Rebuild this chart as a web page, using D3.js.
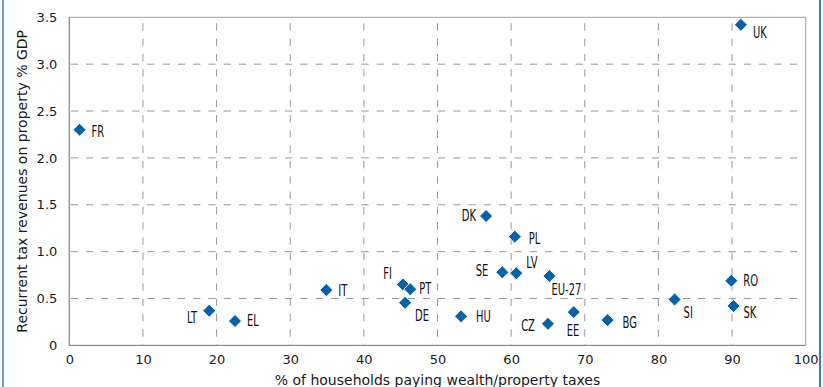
<!DOCTYPE html>
<html lang="en">
<head>
    <meta charset="UTF-8">
    <title>Property tax scatter</title>
    <script src="https://d3js.org/d3.v7.min.js"></script>
    <style>
        body {
            margin: 0;
            background: #fff;
        }

        svg {
            display: block;
        }
    </style>
</head>
<body>
    <div id="chart"></div>

    <script>
        // data
        const countries = ["FR", "UK", "LT", "EL", "IT", "FI", "PT", "DE", "HU", "DK",
                           "PL", "SE", "LV", "EU-27", "CZ", "EE", "BG", "SI", "RO", "SK"];
        const householdsPct = [1.4, 91.2, 19.0, 22.5, 34.9, 45.3, 46.3, 45.6, 53.2, 56.6,
                               60.5, 58.8, 60.7, 65.2, 65.0, 68.5, 73.1, 82.2, 89.9, 90.2];
        const revenueGdp = [2.30, 3.42, 0.37, 0.26, 0.59, 0.65, 0.60, 0.455, 0.31, 1.38,
                            1.16, 0.78, 0.77, 0.74, 0.23, 0.355, 0.27, 0.49, 0.69, 0.42];
        const xTicks = [0, 10, 20, 30, 40, 50, 60, 70, 80, 90, 100];
        const yTicks = [0, 0.5, 1.0, 1.5, 2.0, 2.5, 3.0, 3.5];

        // where each label sits next to its marker: anchor, dx, dy
        const labelPlace = {
            "FR": ["start", 12, 2], "UK": ["start", 12, 8], "LT": ["end", -12, 7],
            "EL": ["start", 12, 0], "IT": ["start", 12, 0], "FI": ["end", -11, -11],
            "PT": ["start", 9, -1], "DE": ["start", 10, 13], "HU": ["start", 15, 0],
            "DK": ["end", -10, 0], "PL": ["start", 14, 2], "SE": ["end", -14, -2],
            "LV": ["start", 10, -11], "EU-27": ["start", 2, 14], "CZ": ["end", -13, 2],
            "EE": ["start", -7, 18], "BG": ["start", 15, 2], "SI": ["start", 9, 13],
            "RO": ["start", 12, 0], "SK": ["start", 10, 7]
        };

        const width = 823;
        const height = 387;
        const margin = {top: 17.3, right: 17.3, bottom: 41.6, left: 69.3};
        const innerW = width - margin.left - margin.right;
        const innerH = height - margin.top - margin.bottom;

        const points = countries.map((c, i) => ({name: c, x: householdsPct[i], y: revenueGdp[i]}));

        const svg = d3.select("#chart").append("svg")
            .attr("width", width)
            .attr("height", height);

        // page border lines
        svg.append("line").attr("x1", 3).attr("x2", 3).attr("y1", 0).attr("y2", height)
            .attr("stroke", "#3b7bbf").attr("stroke-width", 1.5);
        svg.append("line").attr("x1", 820).attr("x2", 820).attr("y1", 0).attr("y2", height)
            .attr("stroke", "#3b7bbf").attr("stroke-width", 2);

        const g = svg.append("g")
            .attr("transform", `translate(${margin.left},${margin.top})`);

        const x = d3.scaleLinear().domain([0, 100]).range([0, innerW]);
        const y = d3.scaleLinear().domain([0, 3.5]).range([innerH, 0]);

        // grid
        g.append("g")
            .selectAll("line")
            .data(xTicks.filter(d => d > 0 && d < 100))
            .enter().append("line")
            .attr("x1", d => x(d)).attr("x2", d => x(d))
            .attr("y1", 6).attr("y2", innerH)
            .attr("stroke", "#9a9a9a")
            .attr("stroke-dasharray", "7.3,8");

        g.append("g")
            .selectAll("line")
            .data(yTicks.filter(d => d > 0 && d < 3.5))
            .enter().append("line")
            .attr("x1", 1.4).attr("x2", innerW - 6)
            .attr("y1", d => y(d)).attr("y2", d => y(d))
            .attr("stroke", "#9a9a9a")
            .attr("stroke-dasharray", "7.3,8");

        // frame
        g.append("rect")
            .attr("width", innerW).attr("height", innerH)
            .attr("fill", "none")
            .attr("stroke", "#a0a0a0");
        g.append("line").attr("x1", 0).attr("x2", 0).attr("y1", 0).attr("y2", innerH)
            .attr("stroke", "#888");
        g.append("line").attr("x1", 0).attr("x2", innerW).attr("y1", innerH).attr("y2", innerH)
            .attr("stroke", "#888");

        // axes
        const xAxis = g.append("g")
            .attr("transform", `translate(0,${innerH})`)
            .call(d3.axisBottom(x).tickValues(xTicks).tickSize(0).tickPadding(9).tickFormat(d3.format("d")));
        const yAxis = g.append("g")
            .call(d3.axisLeft(y).tickValues(yTicks).tickSize(0).tickPadding(12)
                .tickFormat(d => d === 0 ? "0" : d3.format(".1f")(d)));

        [xAxis, yAxis].forEach(a => {
            a.select(".domain").remove();
            a.selectAll("text")
                .attr("fill", "#1a1a1a")
                .style("font-family", "DejaVu Sans, sans-serif")
                .style("font-size", "13px");
        });

        // axis titles
        svg.append("text")
            .attr("x", margin.left + innerW / 2)
            .attr("y", 385)
            .attr("text-anchor", "middle")
            .attr("fill", "#1a1a1a")
            .style("font-family", "DejaVu Sans, sans-serif")
            .style("font-size", "14px")
            .text("% of households paying wealth/property taxes");

        svg.append("text")
            .attr("transform", `translate(27,${margin.top + innerH / 2}) rotate(-90)`)
            .attr("text-anchor", "middle")
            .attr("fill", "#1a1a1a")
            .style("font-family", "DejaVu Sans, sans-serif")
            .style("font-size", "14px")
            .text("Recurrent tax revenues on property % GDP");

        // markers
        const diamond = d3.symbol().type(d3.symbolSquare).size(84);

        g.append("g")
            .selectAll("path")
            .data(points)
            .enter().append("path")
            .attr("d", diamond)
            .attr("transform", d => `translate(${x(d.x)},${y(d.y)}) rotate(45)`)
            .attr("fill", "#0562a8")
            .attr("stroke", "#fff")
            .attr("stroke-width", 0.8);

        // labels (narrow type)
        const labels = g.append("g")
            .selectAll("g")
            .data(points)
            .enter().append("g")
            .attr("transform", d => {
                const p = labelPlace[d.name];
                return `translate(${x(d.x) + p[1]},${y(d.y) + p[2]})`;
            });

        labels.append("text")
            .attr("transform", "scale(0.74,1)")
            .attr("dy", "0.36em")
            .attr("text-anchor", d => labelPlace[d.name][0])
            .attr("fill", "#111")
            .style("font-family", "DejaVu Sans Condensed, DejaVu Sans, sans-serif")
            .style("font-size", "15px")
            .text(d => d.name);
    </script>
</body>
</html>
